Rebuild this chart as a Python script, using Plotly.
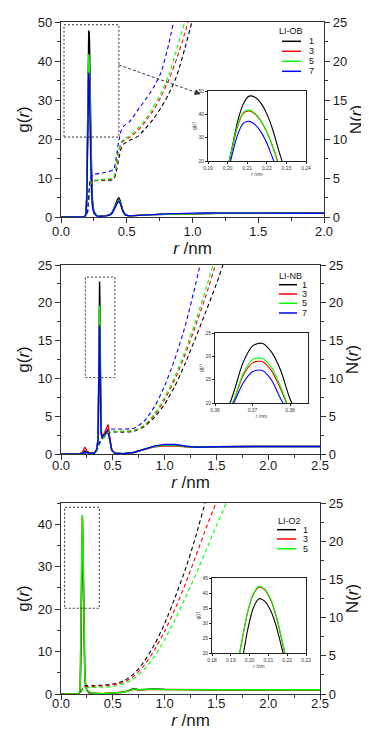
import plotly.graph_objects as go

# ---------------- data ----------------
series_names = ["1", "3", "5", "7"]
series_colors = ["#000000", "#ff0000", "#00ff00", "#0000ff"]

# Panel 1: LI-OB
r1 = [0.0, 0.17, 0.185, 0.19, 0.196, 0.199, 0.202, 0.205, 0.208, 0.211, 0.214, 0.217, 0.220,
      0.223, 0.226, 0.229, 0.233, 0.24, 0.25, 0.27, 0.30, 0.34, 0.37, 0.39, 0.41, 0.43, 0.44,
      0.45, 0.47, 0.49, 0.52, 0.56, 0.6, 0.7, 0.8, 0.9, 1.0, 1.1, 1.2, 1.4, 1.6, 1.8, 2.0]
g1_black = [0, 0, 0.3, 1.2, 6, 14, 24.5, 36.6, 44.4, 47.8, 47.3, 44.8, 40.2, 33.5, 24.8, 17, 10, 4,
            1.5, 0.4, 0.2, 0.3, 0.6, 1.3, 2.8, 4.6, 4.9, 4.2, 1.8, 0.5, 0.3, 0.4, 0.5, 0.6, 0.7, 0.8,
            0.9, 0.95, 0.95, 0.95, 0.95, 0.97, 0.98]
g1_red = [0, 0, 0.3, 1.0, 5, 13, 23.9, 34.6, 40.4, 41.4, 40.1, 37.1, 32.4, 26.2, 19, 12.5, 7.5, 3,
          1.2, 0.4, 0.2, 0.3, 0.5, 1.1, 2.5, 4.1, 4.4, 3.8, 1.6, 0.5, 0.3, 0.4, 0.5, 0.6, 0.7, 0.8,
          0.9, 0.95, 0.97, 0.97, 0.97, 0.98, 0.98]
g1_green = [0, 0, 0.3, 1.0, 5, 13, 24.2, 35.0, 40.8, 41.8, 40.4, 37.3, 32.4, 25.9, 18.5, 12, 7, 3,
            1.2, 0.4, 0.2, 0.3, 0.5, 1.1, 2.5, 4.0, 4.2, 3.7, 1.6, 0.5, 0.3, 0.4, 0.5, 0.6, 0.7, 0.8,
            0.9, 0.95, 0.97, 0.97, 0.97, 0.98, 0.98]
g1_blue = [0, 0, 0.2, 0.8, 4, 11, 21.6, 31.0, 36.1, 37.0, 35.6, 32.5, 27.7, 21.2, 15, 10, 6, 2.5,
           1.0, 0.3, 0.2, 0.3, 0.5, 1.0, 2.3, 3.8, 4.0, 3.5, 1.5, 0.5, 0.3, 0.4, 0.5, 0.6, 0.8, 0.9,
           1.0, 1.05, 1.0, 0.98, 0.98, 0.98, 0.98]
rN1 = [0.0, 0.18, 0.20, 0.22, 0.24, 0.30, 0.36, 0.40, 0.42, 0.44, 0.46, 0.48, 0.52, 0.58, 0.64,
       0.70, 0.76, 0.82, 0.88, 0.94, 1.0]
N1_black = [0, 0, 0.5, 4.0, 4.6, 4.7, 4.7, 4.8, 5.8, 7.5, 8.9, 9.4, 9.8, 10.3, 11.3, 12.5, 14.0,
            15.8, 18.1, 21.5, 25.3]
N1_red = [0, 0, 0.5, 4.0, 4.6, 4.7, 4.8, 5.0, 6.5, 8.5, 9.5, 9.8, 10.2, 11.0, 12.2, 13.6, 15.4,
          17.6, 20.3, 23.5, 27.0]
N1_green = [0, 0, 0.5, 4.0, 4.6, 4.8, 4.9, 5.0, 6.6, 8.7, 9.7, 10.0, 10.4, 11.3, 12.5, 14.0, 15.9,
            18.2, 21.5, 25.0, 28.5]
N1_blue = [0, 0, 0.6, 4.6, 5.4, 5.6, 5.8, 6.1, 7.6, 9.8, 11.2, 11.7, 12.2, 13.6, 15.0, 16.5, 18.5,
           22.2, 27.0, 31.0, 35.0]

# Panel 2: LI-NB
r2 = [0.0, 0.18, 0.21, 0.23, 0.25, 0.28, 0.32, 0.345, 0.358, 0.3625, 0.365, 0.3675, 0.370, 0.3725,
      0.375, 0.3775, 0.380, 0.3825, 0.386, 0.392, 0.40, 0.42, 0.44, 0.455, 0.47, 0.49, 0.52, 0.6,
      0.7, 0.8, 0.9, 1.0, 1.1, 1.2, 1.3, 1.5, 1.7, 2.0, 2.25, 2.5]
g2_black = [0, 0, 0.2, 0.4, 0.3, 0.1, 0.1, 0.5, 2, 7, 12.3, 18.7, 22.2, 22.8, 21.0, 17.0, 10.9, 7,
            4, 2.5, 2.2, 2.5, 2.9, 3.3, 2.0, 0.5, 0.1, 0.05, 0.2, 0.6, 1.0, 1.15, 1.15, 1.0, 0.9,
            0.95, 1.0, 1.0, 1.0, 1.0]
g2_red = [0, 0, 0.3, 0.9, 0.4, 0.1, 0.1, 0.5, 2.2, 6.5, 10.5, 15.9, 18.6, 18.9, 17.0, 13.0, 8.3,
          5.5, 3.5, 2.6, 2.3, 2.8, 3.4, 3.9, 2.3, 0.5, 0.1, 0.05, 0.2, 0.6, 0.95, 1.05, 1.05, 0.95,
          0.9, 0.95, 1.0, 1.0, 1.0, 1.0]
g2_green = [0, 0, 0.1, 0.3, 0.2, 0.1, 0.1, 0.5, 2, 6.5, 10.6, 16.3, 19.3, 19.6, 17.7, 13.5, 8.5,
            5.5, 3.5, 2.5, 2.2, 2.5, 2.9, 3.1, 1.9, 0.5, 0.1, 0.05, 0.2, 0.6, 1.0, 1.15, 1.15, 1.0,
            0.9, 0.95, 1.0, 1.0, 1.0, 1.0]
g2_blue = [0, 0, 0.1, 0.3, 0.2, 0.1, 0.1, 0.5, 2, 6.5, 10.0, 14.3, 16.7, 17.0, 15.0, 10.9, 7.5, 5,
           3.2, 2.4, 2.3, 2.5, 2.8, 3.0, 1.9, 0.5, 0.1, 0.05, 0.2, 0.6, 1.05, 1.25, 1.25, 1.05, 0.9,
           0.95, 1.0, 1.0, 1.0, 1.0]
rN2 = [0.0, 0.25, 0.30, 0.35, 0.38, 0.40, 0.43, 0.46, 0.50, 0.60, 0.70, 0.80, 0.90, 1.0, 1.1, 1.2,
       1.3, 1.4, 1.5, 1.6, 1.7]
N2_black = [0, 0, 0.1, 0.6, 1.6, 2.0, 2.4, 2.8, 2.9, 2.9, 3.0, 3.6, 4.8, 6.6, 9.0, 12.0, 15.4,
            18.9, 22.5, 26.5, 31]
N2_red = [0, 0, 0.15, 0.7, 1.7, 2.1, 2.5, 2.9, 3.0, 3.0, 3.1, 3.7, 5.1, 7.2, 9.9, 13.2, 17.0, 21.0,
          25.4, 30, 35]
N2_green = [0, 0, 0.1, 0.6, 1.6, 2.0, 2.5, 2.9, 3.0, 3.0, 3.1, 3.8, 5.3, 7.5, 10.3, 13.7, 17.6,
            21.9, 26.5, 31, 36]
N2_blue = [0, 0, 0.1, 0.7, 1.8, 2.3, 2.8, 3.2, 3.3, 3.3, 3.4, 4.3, 6.2, 9.0, 12.6, 17.0, 22.5,
           28.5, 34, 40, 46]

# Panel 3: LI-O2
r3 = [0.0, 0.17, 0.185, 0.19, 0.193, 0.196, 0.199, 0.202, 0.205, 0.208, 0.211, 0.214, 0.217, 0.220,
      0.224, 0.23, 0.24, 0.25, 0.27, 0.3, 0.4, 0.5, 0.6, 0.65, 0.7, 0.75, 0.8, 0.9, 1.0, 1.2, 1.5,
      2.0, 2.5]
g3_black = [0, 0, 0.5, 5, 10, 17.5, 27.8, 35.1, 38.1, 37.3, 34.4, 29.3, 22.0, 15, 8, 3.5, 1.6, 0.9,
            0.3, 0.2, 0.1, 0.2, 0.4, 0.8, 1.3, 1.0, 1.1, 1.2, 1.1, 1.0, 1.0, 1.0, 1.0]
g3_red = [0, 0, 1, 9, 15, 24.2, 33.7, 39.5, 41.9, 41.1, 38.0, 32.5, 24.7, 16.5, 9, 4, 1.8, 1.0, 0.5,
          0.2, 0.1, 0.2, 0.4, 0.7, 1.1, 0.95, 1.05, 1.1, 1.05, 1.0, 1.0, 1.0, 1.0]
g3_green = [0, 0, 1, 9, 15, 24.4, 33.9, 39.8, 42.2, 41.4, 38.3, 32.8, 25.1, 17, 9, 4, 1.8, 1.0, 0.5,
            0.2, 0.1, 0.2, 0.4, 0.7, 1.2, 1.0, 1.1, 1.15, 1.05, 1.0, 1.0, 1.0, 1.0]
rN3 = [0.0, 0.18, 0.20, 0.22, 0.25, 0.30, 0.40, 0.50, 0.60, 0.70, 0.80, 0.90, 1.0, 1.1, 1.2, 1.3,
       1.4, 1.5, 1.6, 1.7]
N3_black = [0, 0, 0.5, 1.0, 1.1, 1.1, 1.15, 1.3, 1.7, 2.6, 4.2, 6.4, 9.2, 12.6, 16.3, 20.6, 25.5,
            30.5, 36, 42]
N3_red = [0, 0, 0.45, 0.95, 1.0, 1.0, 1.05, 1.2, 1.5, 2.3, 3.7, 5.7, 8.2, 11.1, 14.4, 18.0, 21.7,
          25.2, 29.5, 34]
N3_green = [0, 0, 0.4, 0.8, 0.85, 0.85, 0.9, 1.0, 1.3, 2.0, 3.2, 4.9, 7.1, 9.7, 12.6, 15.6, 18.8,
            22.0, 25.2, 29]

panel_titles = ["LI-OB", "LI-NB", "LI-O2"]

# ---------------- layout helpers ----------------
W, H = 369, 729
FONT = "Liberation Sans, Arial, sans-serif"
AXC = "#333333"


def px(x):
    return x / W


def py(y):
    return 1 - y / H


fig = go.Figure()

panels = [
    dict(r=r1, g=[g1_black, g1_red, g1_green, g1_blue], rN=rN1,
         N=[N1_black, N1_red, N1_green, N1_blue], xa="x", ya="y", ya2="y2", xi="x4", yi="y7"),
    dict(r=r2, g=[g2_black, g2_red, g2_green, g2_blue], rN=rN2,
         N=[N2_black, N2_red, N2_green, N2_blue], xa="x2", ya="y3", ya2="y4", xi="x5", yi="y8"),
    dict(r=r3, g=[g3_black, g3_red, g3_green], rN=rN3,
         N=[N3_black, N3_red, N3_green], xa="x3", ya="y5", ya2="y6", xi="x6", yi="y9"),
]

for p in panels:
    for i, gv in enumerate(p["g"]):
        fig.add_trace(go.Scatter(x=p["r"], y=gv, mode="lines", xaxis=p["xa"], yaxis=p["ya"],
                                 line=dict(color=series_colors[i], width=1.4), showlegend=False,
                                 name=series_names[i]))
    for i, nv in enumerate(p["N"]):
        fig.add_trace(go.Scatter(x=p["rN"], y=nv, mode="lines", xaxis=p["xa"], yaxis=p["ya2"],
                                 line=dict(color=series_colors[i], width=1.1, dash="4px,3px",
                                           shape="spline", smoothing=0.6),
                                 showlegend=False, name=series_names[i]))
    for i, gv in enumerate(p["g"]):
        fig.add_trace(go.Scatter(x=p["r"], y=gv, mode="lines", xaxis=p["xi"], yaxis=p["yi"],
                                 line=dict(color=series_colors[i], width=1.1, shape="spline",
                                           smoothing=0.8),
                                 showlegend=False, name=series_names[i]))

tickfont = dict(family=FONT, size=13, color="#1a1a1a")
titlefont = dict(family=FONT, size=17, color="#1a1a1a")


def xmain(dom, rng, anchor, lab_off, t_off):
    return dict(domain=dom, range=rng, anchor=anchor, showline=True, linecolor=AXC, linewidth=1.3,
                mirror=True, ticks="outside", ticklen=5, tickwidth=1, tickcolor=AXC, dtick=0.5,
                tickformat=".1f", tickfont=tickfont, showgrid=False, zeroline=False,
                minor=dict(ticks="outside", ticklen=3, dtick=0.25, tickcolor=AXC),
                title=dict(text="<i>r</i> /nm", font=titlefont, standoff=t_off), automargin=False,
                ticklabelstandoff=lab_off)


def ymain(dom, rng, dt, anchor, title, side="left", overlay=None):
    d = dict(domain=dom, range=rng, anchor=anchor, side=side, showline=True, linecolor=AXC,
             linewidth=1.3, ticks="outside", ticklen=5, tickwidth=1, tickcolor=AXC, dtick=dt,
             tickfont=tickfont, showgrid=False, zeroline=False,
             minor=dict(ticks="outside", ticklen=3, dtick=dt / 2, tickcolor=AXC),
             title=dict(text=title, font=titlefont, standoff=3 if side == "left" else 1),
             automargin=False)
    if overlay:
        d["overlaying"] = overlay
        d.pop("domain")
    return d


def inset_x(dom, rng, dt, anchor, fmt):
    return dict(domain=dom, range=rng, anchor=anchor, showline=True, linecolor="#222",
                linewidth=1, mirror=True, ticks="outside", ticklen=2, tickwidth=0.8,
                tickcolor="#222", tick0=rng[0], dtick=dt, tickformat=fmt,
                tickfont=dict(family=FONT, size=5, color="#333"), showgrid=False, zeroline=False,
                title=dict(text="<i>r</i> /nm", font=dict(family=FONT, size=5, color="#333"),
                           standoff=1), automargin=False)


def inset_y(dom, rng, dt, anchor):
    return dict(domain=dom, range=rng, anchor=anchor, showline=True, linecolor="#222",
                linewidth=1, mirror=True, ticks="outside", ticklen=2, tickwidth=0.8,
                tickcolor="#222", dtick=dt,
                tickfont=dict(family=FONT, size=5, color="#333"), showgrid=False, zeroline=False,
                title=dict(text="g(<i>r</i>)", font=dict(family=FONT, size=5, color="#333"),
                           standoff=1), automargin=False)


layout = dict(
    width=W, height=H, margin=dict(l=0, r=0, t=0, b=0), paper_bgcolor="white",
    plot_bgcolor="rgba(0,0,0,0)", font=dict(family=FONT),
    xaxis=xmain([px(53), px(316)], [0, 2.0], "y", -3, 2),
    yaxis=ymain([py(209), py(14)], [0, 50], 10, "x", "g(<i>r</i>)"),
    yaxis2=ymain(None, [0, 25], 5, "x", "N(<i>r</i>)", side="right", overlay="y"),
    xaxis2=xmain([px(53), px(312)], [0, 2.5], "y3", -6, 2),
    yaxis3=ymain([py(446), py(257)], [0, 25], 5, "x2", "g(<i>r</i>)"),
    yaxis4=ymain(None, [0, 25], 5, "x2", "N(<i>r</i>)", side="right", overlay="y3"),
    xaxis3=xmain([px(53), px(312)], [0, 2.5], "y5", -8, 0),
    yaxis5=ymain([py(686), py(495)], [0, 45], 10, "x3", "g(<i>r</i>)"),
    yaxis6=ymain(None, [0, 25], 5, "x3", "N(<i>r</i>)", side="right", overlay="y5"),
    xaxis4=inset_x([px(200), px(298)], [0.19, 0.24], 0.01, "y7", ".2f"),
    yaxis7=inset_y([py(153), py(83)], [20, 50], 10, "x4"),
    xaxis5=inset_x([px(207), px(300)], [0.36, 0.3848], 0.01, "y8", ".2f"),
    yaxis8=inset_y([py(395), py(325)], [10, 25], 5, "x5"),
    xaxis6=inset_x([px(204), px(298)], [0.18, 0.23], 0.01, "y9", ".2f"),
    yaxis9=inset_y([py(645), py(570)], [20, 45], 5, "x6"),
)
fig.update_layout(**layout)

# dashed zoom boxes
boxes = [("x", "y", 0.023, 0.44, 20.5, 49.3), ("x2", "y3", 0.235, 0.52, 10.1, 23.4),
         ("x3", "y5", 0.035, 0.37, 20.2, 44.0)]
for xr, yr, x0, x1, y0, y1 in boxes:
    fig.add_shape(type="rect", xref=xr, yref=yr, x0=x0, x1=x1, y0=y0, y1=y1,
                  line=dict(color="#333", width=1, dash="2px,2px"))

# dashed arrow in panel 1
fig.add_shape(type="line", xref="x", yref="y", x0=0.439, y0=39.0, x1=1.05, y1=31.65,
              line=dict(color="#333", width=1, dash="3px,2px"))
fig.add_annotation(x=1.062, y=31.5, ax=1.03, ay=31.88, xref="x", yref="y", axref="x", ayref="y",
                   showarrow=True, arrowhead=2, arrowsize=1.2, arrowwidth=1, arrowcolor="#333",
                   text="")

# legends (title, line samples, labels)
legend_specs = [
    (panel_titles[0], 283, 23.3, 274, 293, 299, [33.3, 43.3, 53.3, 63.3]),
    (panel_titles[1], 282, 268.3, 271, 289, 292, [276.7, 286.0, 295.3, 305.0]),
    (panel_titles[2], 281, 512.7, 269, 288, 293, [521.7, 531.0, 540.7]),
]
for title, tx, ty, lx0, lx1, labx, ys in legend_specs:
    fig.add_annotation(x=px(tx), y=py(ty), xref="paper", yref="paper", text=title,
                       showarrow=False, font=dict(family=FONT, size=9, color="#111"),
                       xanchor="center", yanchor="middle")
    for i, yy in enumerate(ys):
        fig.add_shape(type="line", xref="paper", yref="paper", x0=px(lx0), x1=px(lx1),
                      y0=py(yy), y1=py(yy), line=dict(color=series_colors[i], width=1.5))
        fig.add_annotation(x=px(labx), y=py(yy), xref="paper", yref="paper",
                           text=series_names[i], showarrow=False,
                           font=dict(family=FONT, size=9, color="#111"),
                           xanchor="left", yanchor="middle")

fig.write_html("out.html")
